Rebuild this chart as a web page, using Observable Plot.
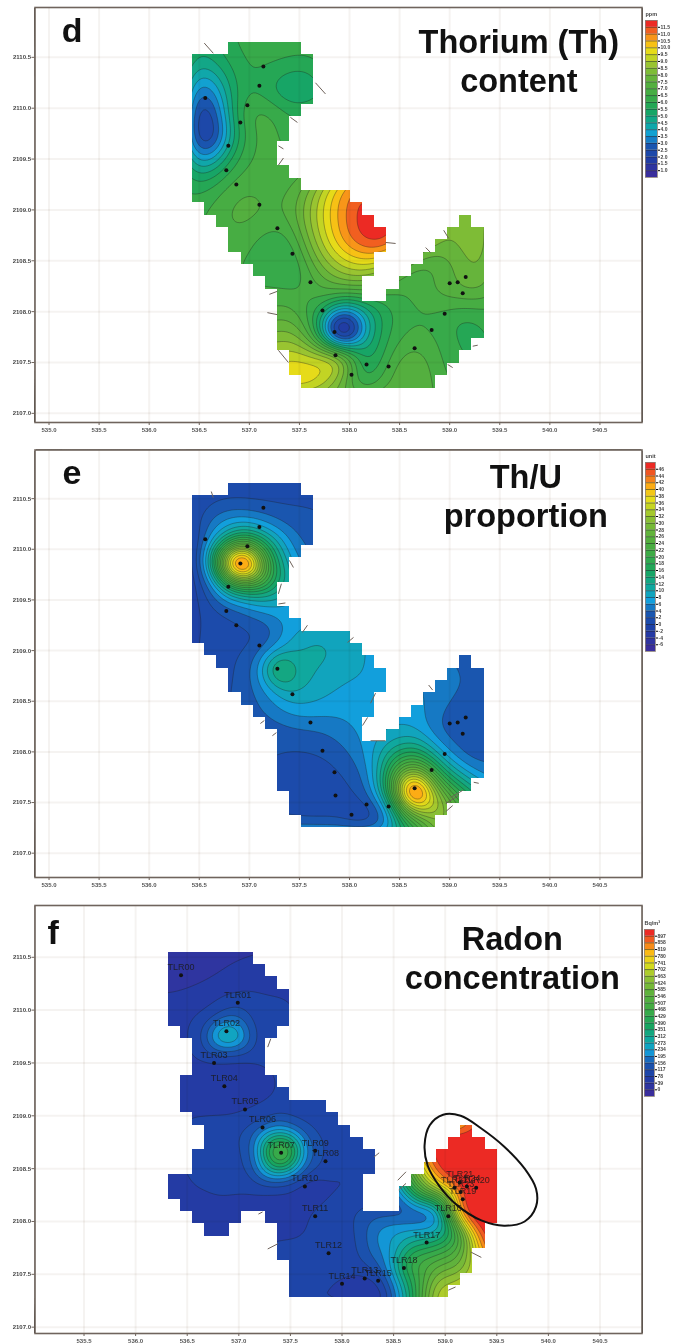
<!DOCTYPE html>
<html><head><meta charset="utf-8">
<script src="https://cdn.jsdelivr.net/npm/d3@7"></script>
<script src="https://cdn.jsdelivr.net/npm/@observablehq/plot@0.6"></script>
<style>html,body{margin:0;background:#fff}#page{position:relative;width:675px;height:1344px;overflow:hidden}</style>
</head><body><div id="page"></div>
<script>
const xTicks=[535,535.5,536,536.5,537,537.5,538,538.5,539,539.5,540,540.5];
const xTicksF=[535.5,536,536.5,537,537.5,538,538.5,539,539.5,540,540.5];
const yTicks=[2107,2107.5,2108,2108.5,2109,2109.5,2110,2110.5];
const stopPos=[0,0.1,0.19,0.26,0.33,0.42,0.52,0.62,0.72,0.81,0.88,0.94,1];
const stopColors=["#3a2e9c","#1f3ea5","#1a57b0","#12a0dc","#10a8a0","#18a55e","#3fab45","#5db13c","#93c233","#e3e01a","#fdb713","#f3701f","#ec2a24"];

// Shared survey sites (panels d, e)
const sites=[[537.14,2110.41],[537.10,2110.22],[536.56,2110.10],[536.98,2110.03],[536.91,2109.86],[536.79,2109.63],[536.77,2109.39],[536.87,2109.25],[537.10,2109.05],[537.28,2108.82],[537.43,2108.57],[537.61,2108.29],[537.73,2108.01],[537.85,2107.80],[537.86,2107.57],[538.02,2107.38],[538.17,2107.48],[538.39,2107.46],[538.65,2107.64],[538.82,2107.82],[538.95,2107.98],[539.0,2108.28],[539.08,2108.29],[539.16,2108.34],[539.13,2108.18]];
const deCols=[536.4,536.65,536.9,537.15,537.4,537.65,537.9,538.15,538.4,538.65,538.9,539.15,539.4];
const deRowsY=[2110.7,2110.45,2110.2,2109.95,2109.7,2109.45,2109.2,2108.95,2108.7,2108.45,2108.2,2107.95,2107.7,2107.45,2107.2];
const _=null;
const thValues=[
[5.0,5.5,6.2,6.3,6.3,6.3],
[4.4,5.2,6.0,6.1,6.0,5.9],
[2.2,3.6,6.1,5.6,4.4,5.0],
[0.8,2.2,6.6,7.0,6.0,5.8],
[1.0,1.4,5.8,6.9,6.3,6.2],
[3.8,4.5,6.3,6.7,6.6,6.6],
[5.7,6.3,7.0,6.9,6.8,8.5,10.6,11.8],
[6.2,6.7,7.4,7.0,7.0,9.0,10.8,12,12,_,8,8.2,8.5],
[6.5,6.6,6.8,6.2,6.0,8.6,10.6,12,12,_,8,8.2,9.2],
[_,6.5,6.5,6.2,5.4,7.6,9.2,9.6,8.5,6.5,7,7.8,8.6],
[_,_,6.5,6.5,6.6,6.8,7.2,7.2,6.5,6.6,7.2,7.6,7.9],
[_,_,_,7.0,7.6,6.0,1.5,4.2,6.0,6.4,6.2,5.6,6.2],
[_,_,_,8.2,8.8,7.2,-1,4.6,6.2,7,6.5,5.7,6],
[_,_,_,9.6,10,10,10,4.6,7,7.8,6.6,6,_],
[_,_,_,_,10.2,10.2,7.5,6.2,7,7.6,6.8,_,_]];
const thExtra=[[537.9,2107.85,-4],[537.98,2107.85,-1],[537.82,2107.85,2],[537.88,2107.6,10]];
const thuValues=[
[1,1,0.5,0,0,0.5],
[0,1.5,2,2,2,2],
[-1,6,10,7,3.5,2.5],
[-4,14,38,20,6,2.5],
[-2,4,25,24,11,3],
[0,1,3,8,9,4],
[0,1,1,1,7,10,9,8],
[1,1,2,4,10,11,10,8,7],
[_,1,2,6,13,10,8,8,8,6,5,4,3],
[_,_,3,4,8,8,7,7,7,7,4.5,3,2.5],
[_,_,_,3,3,3.5,5,7,8,8,2.5,2,2],
[_,_,_,2,1.5,1.5,2.5,6,14,19,8,2.5,3],
[_,_,_,2,1.5,0.5,1.5,2.5,18,44,20,12,6],
[_,_,_,_,1,1,1.5,-0.5,4,36,36,22,_],
[_,_,_,_,_,1.5,1,-1,2,14,32,_,_]];
const thuExtra=[[536.9,2109.9,85],[538.65,2107.63,80],[538.75,2107.6,46],[537.27,2108.82,32]];

const fCols=[536.4,536.65,536.9,537.15,537.4,537.65,537.9,538.15,538.4,538.65,538.9,539.15,539.4];
const fRowsY=[2110.6,2110.35,2110.1,2109.85,2109.6,2109.35,2109.1,2108.85,2108.6,2108.35,2108.1,2107.85,2107.6,2107.35,2107.1];
const radonValues=[
[15,15,25,35,60],
[12,25,45,60,70,75],
[50,65,85,85,80,75],
[75,90,210,95,85,75],
[70,85,110,90,80],
[60,45,25,60,80,90],
[70,65,60,70,85,100,110,110,100],
[90,95,105,135,230,115,100,95,90,950,950,950,950],
[90,90,85,140,560,170,90,90,90,650,950,950,950],
[75,80,85,85,80,20,70,75,80,430,780,950,950],
[60,70,70,60,50,75,95,120,130,100,100,950,950],
[_,75,75,75,80,80,85,110,240,280,300,430,950],
[_,_,_,_,85,85,85,100,170,500,540,560,750],
[_,_,_,_,_,80,80,30,50,340,700,720],
[_,_,_,_,_,_,80,30,40,300,700,720]];
const radonExtra=[[537.41,2108.65,720],[536.88,2109.80,460],[538.55,2108.15,90]];
const radonSites=[["TLR00",536.44,2110.33],["TLR01",536.99,2110.07],["TLR02",536.88,2109.80],["TLR03",536.76,2109.50],["TLR04",536.86,2109.28],["TLR05",537.06,2109.06],["TLR06",537.23,2108.89],["TLR07",537.41,2108.65],["TLR09",537.74,2108.67],["TLR08",537.84,2108.57],["TLR10",537.64,2108.33],["TLR11",537.74,2108.05],["TLR12",537.87,2107.70],["TLR14",538.0,2107.41],["TLR13",538.22,2107.46],["TLR15",538.35,2107.44],["TLR18",538.60,2107.56],["TLR17",538.82,2107.80],["TLR16",539.03,2108.05],["TLR19",539.17,2108.21],["TLR20",539.30,2108.32],["TLR22",539.09,2108.32],["TLR21",539.14,2108.37],["TLR23",539.15,2108.28],["TLR24",539.21,2108.33]];
const ellipse=[[538.80,2108.72],[538.85,2108.91],[538.98,2109.01],[539.15,2109.0],[539.35,2108.88],[539.57,2108.71],[539.77,2108.50],[539.88,2108.31],[539.88,2108.14],[539.77,2108.0],[539.57,2107.96],[539.35,2108.01],[539.12,2108.15],[538.94,2108.34],[538.83,2108.53]];

// Mapped blocks per grid row (pairs of column edges)
const deMask=[[3,9],[0,10],[0,10],[0,10],[0,10],[0,9],[0,8],[0,8],[0,7],[0,7],[0,8],[0,9],[0,13],[1,14],[2,15,22,23],[3,16,21,24],[3,16,20,24],[4,15,19,24],[5,15,18,24],[6,14,17,24],[7,14,16,24],[7,24],[7,24],[7,24],[7,23],[8,22],[8,21],[9,20]];
const fMask=[[0,7],[0,8],[0,9],[0,10],[0,10],[0,10],[1,9],[2,8],[2,8],[2,8],[1,9],[1,10],[1,13],[2,14],[3,15,24,25],[3,16,23,26],[2,17,22,27],[2,17,21,27],[0,16,20,27],[0,16,19,27],[1,16,19,27],[2,6,8,27],[3,5,9,26],[9,26],[9,25],[10,25],[10,24],[10,23]];

const thStubs=[[536.55,2110.64,536.64,2110.54],[537.66,2110.25,537.76,2110.14],[537.41,2109.91,537.48,2109.86],[537.29,2109.63,537.34,2109.60],[537.29,2109.44,537.34,2109.51],[537.20,2108.17,537.28,2108.20],[537.18,2107.99,537.28,2107.97],[537.29,2107.62,537.39,2107.50],[538.36,2108.68,538.46,2108.67],[538.94,2108.80,538.99,2108.72],[538.76,2108.63,538.81,2108.58],[539.23,2107.66,539.28,2107.67],[538.98,2107.48,539.03,2107.45]];
const thuStubs=[[536.62,2110.57,536.64,2110.51],[537.40,2109.89,537.44,2109.82],[537.32,2109.66,537.29,2109.56],[537.29,2109.46,537.36,2109.47],[537.58,2109.25,537.53,2109.18],[538.04,2109.13,537.98,2109.08],[538.79,2108.66,538.83,2108.61],[537.11,2108.28,537.15,2108.31],[537.23,2108.16,537.27,2108.19],[538.26,2108.58,538.21,2108.48],[538.18,2108.34,538.13,2108.26],[538.21,2108.11,538.36,2108.11],[539.24,2107.70,539.29,2107.69],[539.01,2107.55,539.13,2107.62],[538.96,2107.49,539.09,2107.57],[538.96,2107.41,539.03,2107.47]];
const radonStubs=[[537.31,2109.73,537.28,2109.65],[538.31,2108.61,538.36,2108.65],[537.19,2108.07,537.23,2108.09],[537.28,2107.74,537.38,2107.79],[538.62,2108.47,538.54,2108.39],[538.55,2108.30,538.62,2108.36],[539.03,2107.35,539.10,2107.38],[539.25,2107.71,539.35,2107.66]];

const thLevels=[1,1.5,2,2.5,3,3.5,4,4.5,5,5.5,6,6.5,7,7.5,8,8.5,9,9.5,10,10.5,11,11.5];
const thuLevels=[-6,-4,-2,0,2,4,6,8,10,12,14,16,18,20,22,24,26,28,30,32,34,36,38,40,42,44,46];
const radonLevels=[0,39,78,117,156,195,234,273,312,351,390,429,468,507,546,585,624,663,702,741,780,819,858,897];

const page=document.getElementById("page");
const ramp=d3.scaleLinear().domain(stopPos).range(stopColors);
const rangeFor=l=>d3.range(l.length+1).map(i=>ramp(i/l.length));
const ctl=(cols,rowsY,vals,extra)=>{const o=[];vals.forEach((r,j)=>r.forEach((v,i)=>{if(v!==null&&v!==undefined)o.push({x:cols[i],y:rowsY[j],v})}));extra.forEach(([x,y,v])=>o.push({x,y,v}));return o};
function gaps(rows,g,xd,yd){const o=[];rows.forEach((r,j)=>{let p=xd[0];const a=g.y0-j*g.dy,b=g.y0-(j+1)*g.dy;for(let k=0;k<r.length;k+=2){o.push({x1:p,x2:g.x0+r[k]*g.dx,y1:a,y2:b});p=g.x0+r[k+1]*g.dx}o.push({x1:p,x2:xd[1],y1:a,y2:b})});
 o.push({x1:xd[0],x2:xd[1],y1:g.y0,y2:yd[1]});o.push({x1:xd[0],x2:xd[1],y1:g.y0-rows.length*g.dy,y2:yd[0]});return o}

function panel(c){
 const marks=[
  Plot.contour(c.pts,{x:"x",y:"y",fill:"v",interpolate:"barycentric",blur:c.blur,pixelSize:2,thresholds:[-1e6,...c.levels],stroke:"#20201c",strokeWidth:0.5,strokeOpacity:0.7}),
  Plot.rect(gaps(c.mask,c.grid,c.xd,c.yd),{x1:"x1",x2:"x2",y1:"y1",y2:"y2",fill:"white",shapeRendering:"crispEdges"}),
  Plot.link(c.stubs,{x1:d=>d[0],y1:d=>d[1],x2:d=>d[2],y2:d=>d[3],stroke:"#6e625a",strokeWidth:1}),
  Plot.ruleX(c.xt,{stroke:"#efebe7",strokeWidth:2,strokeOpacity:0.6,mixBlendMode:"multiply"}),
  Plot.ruleY(yTicks,{stroke:"#efebe7",strokeWidth:2,strokeOpacity:0.6,mixBlendMode:"multiply"}),
  Plot.dot(c.sites,{x:d=>d[d.length-2],y:d=>d[d.length-1],r:2,fill:"#111"}),
  Plot.axisX({ticks:c.xt,tickFormat:d=>d.toFixed(1),tickSize:3,fontSize:6,fontWeight:"bold",fill:"#555",stroke:"#6e625a",tickPadding:2,label:null}),
  Plot.axisY({ticks:yTicks,tickFormat:d=>d.toFixed(1),tickSize:3,fontSize:6,fontWeight:"bold",fill:"#444",stroke:"#6e625a",tickPadding:1,label:null}),
  Plot.frame({stroke:"#6f645d",strokeWidth:1.6}),
  Plot.text(c.titles,{x:d=>d[1],y:d=>d[2],text:d=>d[0],lineAnchor:"bottom",fontSize:d=>d[3],fontWeight:"bold",fill:"#111",textAnchor:"middle"}),
  ...(c.extra||[])
 ];
 const svg=Plot.plot({width:675,height:c.h,marginTop:c.mt,marginBottom:c.mb,marginLeft:34.5,marginRight:33.5,
  x:{domain:c.xd,axis:null},y:{domain:c.yd,axis:null},
  color:{type:"threshold",domain:c.levels,range:rangeFor(c.levels)},
  style:{position:"absolute",left:"0",top:c.top+"px",background:"transparent",fontFamily:"'Liberation Sans',Arial,sans-serif",filter:"blur(0.45px)"},marks});
 page.appendChild(svg);
}
function legend(c){
 const step=c.levels[1]-c.levels[0];
 const bands=[c.levels[0]-step,...c.levels];
 const svg=Plot.plot({width:35,height:c.y2-c.y1+14,marginTop:12,marginBottom:2,marginLeft:c.x-640,marginRight:35-(c.w+c.x-640),
  x:{domain:[0,1],axis:null},y:{domain:[bands[0],c.levels[c.levels.length-1]+step],axis:null},
  color:{type:"threshold",domain:c.levels,range:rangeFor(c.levels)},
  style:{position:"absolute",left:"640px",top:(c.y1-12)+"px",background:"transparent",overflow:"visible",fontFamily:"'Liberation Sans',Arial,sans-serif",filter:"blur(0.35px)"},
  marks:[
   Plot.rect(bands,{x1:0,x2:1,y1:d=>d,y2:d=>d+step,fill:d=>d}),
   Plot.ruleY(c.levels,{stroke:"#222",strokeWidth:0.5}),
   Plot.frame({stroke:"#8a7f78",strokeWidth:0.8}),
   Plot.axisY({anchor:"right",ticks:c.levels,tickFormat:c.fmt,tickSize:2,tickPadding:1,fontSize:5,fontWeight:"bold",fill:"#444",label:null}),
   Plot.text([c.unit],{frameAnchor:"top-left",dy:-8,text:d=>d,fontSize:5.5,fontWeight:"bold",fill:"#444"})
  ]});
 page.appendChild(svg);
}
panel({top:0,h:445,mt:7,mb:23,xd:[534.86,540.92],yd:[2106.91,2110.99],xt:xTicks,levels:thLevels,blur:5,
 pts:ctl(deCols,deRowsY,thValues,thExtra),mask:deMask,grid:{x0:536.432,y0:2110.648,dx:0.1213,dy:0.1214},stubs:thStubs,sites,
 titles:[["d",535.23,2110.65,34],["Thorium (Th)",539.69,2110.54,32.5],["content",539.69,2110.16,32.5]]});
panel({top:445,h:450,mt:4.5,mb:18,xd:[534.86,540.92],yd:[2106.76,2110.98],xt:xTicks,levels:thuLevels,blur:5,
 pts:ctl(deCols,deRowsY,thuValues,thuExtra),mask:deMask,grid:{x0:536.432,y0:2110.648,dx:0.1213,dy:0.1214},stubs:thuStubs,sites,
 titles:[["e",535.23,2110.64,34],["Th/U",539.76,2110.6,32.5],["proportion",539.76,2110.22,32.5]]});
panel({top:895,h:449,mt:10,mb:11,xd:[535.025,540.907],yd:[2106.94,2110.99],xt:xTicksF,levels:radonLevels,blur:4,
 pts:ctl(fCols,fRowsY,radonValues,radonExtra),mask:fMask,grid:{x0:536.314,y0:2110.548,dx:0.1182,dy:0.1168},stubs:radonStubs,sites:radonSites.map(d=>[d[1],d[2]]),
 titles:[["f",535.2,2110.63,34],["Radon",539.65,2110.57,32.5],["concentration",539.65,2110.2,32.5]],
 extra:[
  Plot.text(radonSites,{x:d=>d[1],y:d=>d[2],text:d=>d[0],dy:-8,fontSize:9,fill:"#1a1a1a",fillOpacity:0.85}),
  Plot.line(ellipse,{x:d=>d[0],y:d=>d[1],curve:"catmull-rom-closed",stroke:"#111",strokeWidth:2,fill:"none"})
 ]});
legend({levels:thLevels,fmt:d=>d.toFixed(1),x:645,w:12,y1:20,y2:177,unit:"ppm"});
legend({levels:thuLevels,fmt:d=>String(d),x:645,w:10,y1:462,y2:651,unit:"unit"});
legend({levels:radonLevels,fmt:d=>String(d),x:644,w:10,y1:929,y2:1096,unit:"Bq/m³"});
</script></body></html>
